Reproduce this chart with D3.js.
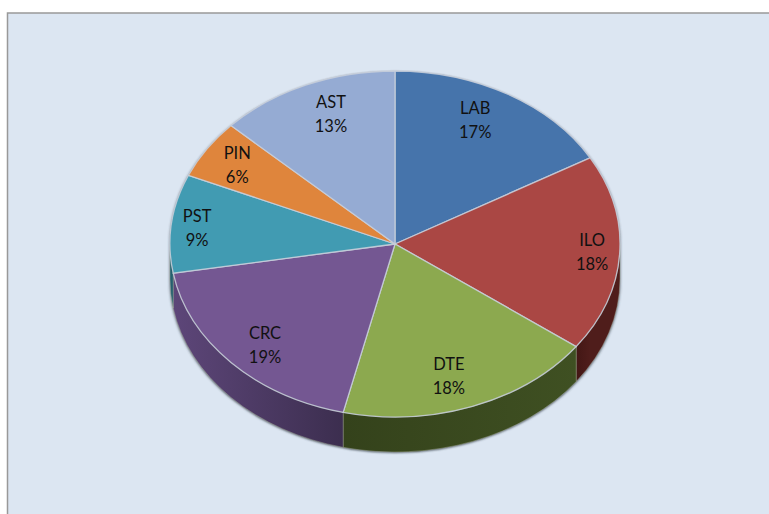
<html>
<head>
    <meta charset="utf-8">
    <title>Pie</title>
    <script src="https://d3js.org/d3.v7.min.js" charset="utf-8"></script>
    <style>
        html, body { margin: 0; padding: 0; background: #fff; }
    </style>
</head>
<body>
    <div id="chart"></div>
    <script>
        const categories = ["LAB", "ILO", "DTE", "CRC", "PST", "PIN", "AST"];
        const shares = [16.7, 18.4, 18.6, 18.6, 9.2, 5.5, 13.0];
        const percentLabels = ["17%", "18%", "18%", "19%", "9%", "6%", "13%"];
        const topColors = ["#4674ab", "#aa4744", "#8ca94f", "#745792", "#419bb2", "#df853c", "#95abd3"];
        const wallLight = ["#2c4a70", "#4f1d1b", "#3f5022", "#5d4679", "#2a6878", "#a0602a", "#6a7fa5"];
        const wallDark = ["#20364f", "#431715", "#34421b", "#3c2e4f", "#25606f", "#804c20", "#55688a"];
        // label placement: degrees off the middle of the slice, and fraction of the radius
        const labelShift = [-3.8, -0.6, 2.6, -1.8, -0.4, 0.1, 2.8];
        const labelRadius = [0.806, 0.877, 0.794, 0.817, 0.885, 0.84, 0.809];

        const width = 769, height = 514,
            cx = 395, cy = 244,
            rx = 225, ry = 173,
            depth = 35,
            squash = ry / rx;

        const svg = d3.select("#chart").append("svg")
            .attr("width", width)
            .attr("height", height)
            .style("display", "block");

        const defs = svg.append("defs");

        const blur = defs.append("filter")
            .attr("id", "shadow")
            .attr("x", "-10%").attr("y", "-10%")
            .attr("width", "120%").attr("height", "120%");
        blur.append("feGaussianBlur").attr("stdDeviation", 1.6);

        // panel, runs off the right and bottom of the picture
        svg.append("rect")
            .attr("x", 7.5).attr("y", 13)
            .attr("width", 800).attr("height", 540)
            .attr("fill", "#dce6f2")
            .attr("stroke", "#999")
            .attr("stroke-width", 1.5);

        const pie = d3.pie().sort(null).value(d => d)(shares);
        const arc = d3.arc().innerRadius(0).outerRadius(rx);

        const chart = svg.append("g").attr("transform", `translate(${cx},${cy})`);
        const disc = chart.append("g").attr("transform", `scale(1,${squash})`);
        const depthU = depth / squash;

        // wall path for the part of a slice on the front of the disc
        const wallPath = (a0, a1) => {
            const s = Math.max(a0, Math.PI / 2), e = Math.min(a1, Math.PI * 1.5);
            if (s >= e) return null;
            const p = d3.path();
            p.arc(0, 0, rx, s - Math.PI / 2, e - Math.PI / 2, false);
            p.arc(0, depthU, rx, e - Math.PI / 2, s - Math.PI / 2, true);
            p.closePath();
            return p.toString();
        };

        // soft shadow behind the walls
        const outline = d3.path();
        outline.arc(0, 0, rx, Math.PI, 0, false);
        outline.arc(0, depthU, rx, 0, Math.PI, false);
        outline.closePath();
        disc.append("path")
            .attr("d", outline.toString())
            .attr("fill", "#3d4650")
            .attr("transform", "translate(0,1)")
            .attr("filter", "url(#shadow)");

        pie.forEach((d, i) => {
            const wall = wallPath(d.startAngle, d.endAngle);
            if (!wall) return;
            const grad = defs.append("linearGradient")
                .attr("id", "wall" + i)
                .attr("gradientUnits", "userSpaceOnUse")
                .attr("x1", rx * Math.sin(d.startAngle))
                .attr("x2", rx * Math.sin(d.endAngle))
                .attr("y1", 0).attr("y2", 0);
            grad.append("stop").attr("offset", "0%").attr("stop-color", i < 3 ? wallLight[i] : wallDark[i]);
            grad.append("stop").attr("offset", "100%").attr("stop-color", i < 3 ? wallDark[i] : wallLight[i]);
            disc.append("path")
                .attr("d", wall)
                .attr("fill", `url(#wall${i})`)
                .attr("stroke", "#b9bfa8")
                .attr("stroke-opacity", 0.45)
                .attr("stroke-width", 0.8)
                .attr("vector-effect", "non-scaling-stroke");
        });

        disc.selectAll(".slice")
            .data(pie)
            .enter()
            .append("path")
            .attr("class", "slice")
            .attr("d", arc)
            .attr("fill", (d, i) => topColors[i])
            .attr("stroke", "#c9d0dc")
            .attr("stroke-opacity", 0.85)
            .attr("stroke-width", 1.3)
            .attr("vector-effect", "non-scaling-stroke");

        const labels = chart.selectAll(".label")
            .data(pie)
            .enter()
            .append("text")
            .attr("class", "label")
            .attr("text-anchor", "middle")
            .style("font-family", "Lato, 'Open Sans', sans-serif")
            .style("font-size", "16.5px")
            .attr("fill", "#111")
            .attr("transform", (d, i) => {
                const a = (d.startAngle + d.endAngle) / 2 + labelShift[i] * Math.PI / 180;
                return `translate(${rx * labelRadius[i] * Math.sin(a)},${-ry * labelRadius[i] * Math.cos(a)})`;
            });

        labels.append("tspan").attr("x", 0).attr("y", -5).text((d, i) => categories[i]);
        labels.append("tspan").attr("x", 0).attr("y", 19).text((d, i) => percentLabels[i]);
    </script>
</body>
</html>
